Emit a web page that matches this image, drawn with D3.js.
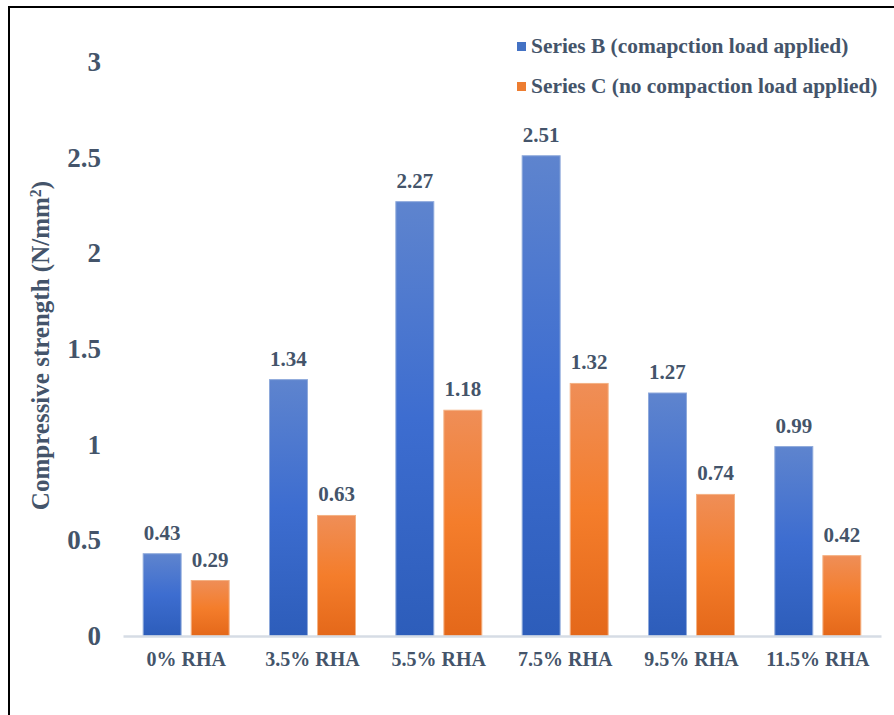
<!DOCTYPE html>
<html>
<head>
<meta charset="utf-8">
<script src="https://cdn.jsdelivr.net/npm/d3@7"></script>
<style>
  html, body { margin: 0; padding: 0; background: #fff; }
  svg { display: block; }
</style>
</head>
<body>
<svg id="chart"></svg>
<script>
const width = 894;
const height = 715;

// ----- DATA -----
const categories = ["0% RHA", "3.5% RHA", "5.5% RHA", "7.5% RHA", "9.5% RHA", "11.5% RHA"];
const seriesB = [0.43, 1.34, 2.27, 2.51, 1.27, 0.99];
const seriesC = [0.29, 0.63, 1.18, 1.32, 0.74, 0.42];
const seriesNames = ["Series B (comapction load applied)", "Series C (no compaction load applied)"];
const yTicks = [0, 0.5, 1, 1.5, 2, 2.5, 3];

const textColor = "#44546A";
const font = "Liberation Serif";

const svg = d3.select("#chart")
  .attr("width", width)
  .attr("height", height)
  .attr("font-family", font)
  .attr("font-weight", "bold");

// gradients for the bars
const defs = svg.append("defs");
function addGradient(id, stops) {
  const g = defs.append("linearGradient")
    .attr("id", id)
    .attr("x1", 0).attr("y1", 0).attr("x2", 0).attr("y2", 1);
  stops.forEach(([o, c]) => g.append("stop").attr("offset", o).attr("stop-color", c));
}
addGradient("gradB", [["0%", "#5E84CE"], ["50%", "#3D6DD0"], ["100%", "#2D5DBA"]]);
addGradient("gradC", [["0%", "#EF8E57"], ["50%", "#F47D2B"], ["100%", "#E4681A"]]);

const series = [
  { key: "B", name: seriesNames[0], values: seriesB, fill: "url(#gradB)", stroke: "#8EA9DB", swatch: "#4472C4" },
  { key: "C", name: seriesNames[1], values: seriesC, fill: "url(#gradC)", stroke: "#F4B183", swatch: "#ED7D31" },
];

// frame (runs off the right and bottom edge, like the source screenshot)
svg.append("rect")
  .attr("x", 9).attr("y", 7)
  .attr("width", width + 20).attr("height", height + 20)
  .attr("fill", "none")
  .attr("stroke", "#000")
  .attr("stroke-width", 2);

// ----- SCALES -----
const x = d3.scaleBand()
  .domain(categories)
  .range([123, 881]);

const xInner = d3.scaleBand()
  .domain(series.map(s => s.key))
  .range([0, x.bandwidth()])
  .paddingInner(0.21)
  .paddingOuter(0.42);

const y = d3.scaleLinear()
  .domain([0, 3])
  .range([636, 62]);

// y tick labels (no axis line, no gridlines)
const yAxis = svg.append("g")
  .attr("transform", "translate(101,0)")
  .call(d3.axisLeft(y).tickValues(yTicks).tickSize(0).tickPadding(0).tickFormat(d3.format("")));
yAxis.attr("font-family", font).attr("font-size", 27);
yAxis.select(".domain").remove();
yAxis.selectAll("text")
  .attr("fill", textColor)
  .attr("font-family", font)
  .attr("font-weight", "bold")
  .attr("font-size", 27);

// axis title
svg.append("text")
  .attr("transform", `translate(49,${(178 + 513) / 2}) rotate(-90)`)
  .attr("text-anchor", "middle")
  .attr("fill", textColor)
  .attr("font-family", font)
  .attr("font-size", 25)
  .call(t => {
    t.append("tspan").text("Compressive strength (N/mm");
    t.append("tspan").attr("baseline-shift", "super").attr("font-size", 16).text("2");
    t.append("tspan").text(")");
  });

// ----- BARS -----
const groups = svg.append("g")
  .selectAll("g")
  .data(categories)
  .join("g")
  .attr("transform", d => `translate(${x(d)},0)`);

series.forEach(s => {
  groups.append("rect")
    .attr("x", xInner(s.key))
    .attr("y", (d, i) => y(s.values[i]))
    .attr("width", xInner.bandwidth())
    .attr("height", (d, i) => y(0) - y(s.values[i]))
    .attr("fill", s.fill)
    .attr("stroke", s.stroke)
    .attr("stroke-width", 1);

  groups.append("text")
    .attr("x", xInner(s.key) + xInner.bandwidth() / 2)
    .attr("y", (d, i) => y(s.values[i]) - 14)
    .attr("text-anchor", "middle")
    .attr("fill", textColor)
    .attr("font-family", font)
    .attr("font-size", 21)
    .text((d, i) => d3.format(".2f")(s.values[i]));
});

// x axis line + category labels
const xAxis = svg.append("g")
  .attr("transform", `translate(0,${y(0)})`)
  .call(d3.axisBottom(x).tickSize(0).tickPadding(0));
xAxis.attr("font-family", font).attr("font-size", 20);
xAxis.select(".domain")
  .attr("stroke", "#D6DCE5")
  .attr("stroke-width", 2.5);
xAxis.selectAll("text")
  .attr("fill", textColor)
  .attr("font-family", font)
  .attr("font-weight", "bold")
  .attr("font-size", 20)
  .attr("dy", 0)
  .attr("y", 30);

// ----- LEGEND -----
const legend = svg.append("g")
  .selectAll("g")
  .data(series)
  .join("g")
  .attr("transform", (d, i) => `translate(517,${53 + i * 40})`);

legend.append("rect")
  .attr("x", 0).attr("y", -11)
  .attr("width", 9).attr("height", 9)
  .attr("fill", d => d.swatch);

legend.append("text")
  .attr("x", 14)
  .attr("y", 0)
  .attr("fill", textColor)
  .attr("font-family", font)
  .attr("font-size", 21.4)
  .text(d => d.name);
</script>
</body>
</html>
